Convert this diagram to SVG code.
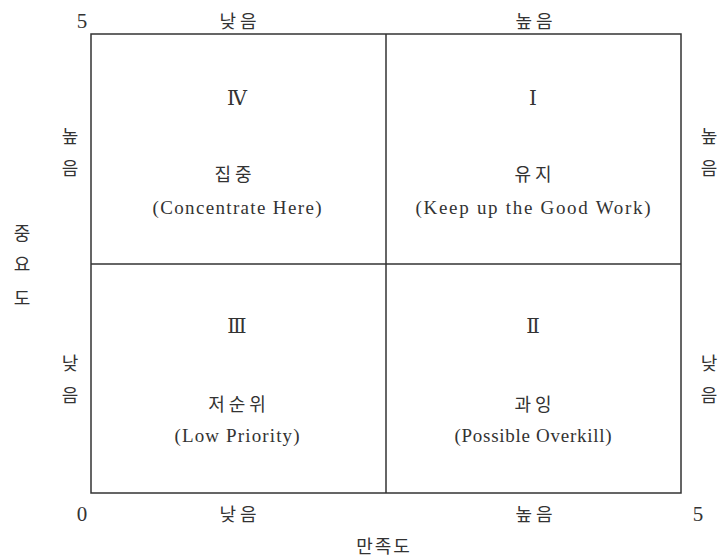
<svg xmlns="http://www.w3.org/2000/svg" width="720" height="559" viewBox="0 0 720 559">
<style>
.ko{font-family:"Noto Sans CJK KR","Noto Sans",sans-serif;font-size:18px;fill:#333;text-anchor:middle}
.sp{letter-spacing:4px}
.en{font-family:"Liberation Serif","DejaVu Serif",serif;font-size:19px;fill:#333;text-anchor:middle}
.num{font-family:"Liberation Serif",serif;font-size:21px;fill:#333;text-anchor:middle}
.rom{font-family:"DejaVu Serif","Liberation Serif",serif;font-size:20px;fill:#333;text-anchor:middle}
.ln{stroke:#333;stroke-width:1.5;fill:none}
</style>
<rect width="720" height="559" fill="#fff"/>
<g id="grid">
<rect class="ln" x="91" y="34" width="590" height="459"/>
<line class="ln" x1="386" y1="34" x2="386" y2="493"/>
<line class="ln" x1="91" y1="264" x2="681" y2="264"/>
</g>
<g id="q4">
<text class="rom" x="237" y="105">Ⅳ</text>
<text class="ko sp" x="235" y="181">집중</text>
<text class="en" x="237" y="214" textLength="169" lengthAdjust="spacing">(Concentrate Here)</text>
</g>
<g id="q1">
<text class="rom" x="533" y="105">Ⅰ</text>
<text class="ko sp" x="535" y="181">유지</text>
<text class="en" x="533" y="214" textLength="235" lengthAdjust="spacing">(Keep up the Good Work)</text>
</g>
<g id="q3">
<text class="rom" x="237" y="333">Ⅲ</text>
<text class="ko sp" x="239" y="411">저순위</text>
<text class="en" x="237" y="442" textLength="125" lengthAdjust="spacing">(Low Priority)</text>
</g>
<g id="q2">
<text class="rom" x="533" y="333">Ⅱ</text>
<text class="ko sp" x="535" y="411">과잉</text>
<text class="en" x="533" y="442" textLength="157" lengthAdjust="spacing">(Possible Overkill)</text>
</g>
<g id="axes">
<text class="num" x="82" y="28">5</text>
<text class="ko sp" x="240" y="28">낮음</text>
<text class="ko sp" x="536" y="28">높음</text>
<text class="num" x="82" y="521">0</text>
<text class="ko sp" x="240" y="521">낮음</text>
<text class="ko sp" x="536" y="521">높음</text>
<text class="num" x="698" y="521">5</text>
<text class="ko" x="384" y="553" style="letter-spacing:2px">만족도</text>
<text class="ko" x="70" y="143">높</text>
<text class="ko" x="70" y="175">음</text>
<text class="ko" x="70" y="370">낮</text>
<text class="ko" x="70" y="402">음</text>
<text class="ko" x="709" y="143">높</text>
<text class="ko" x="709" y="175">음</text>
<text class="ko" x="709" y="370">낮</text>
<text class="ko" x="709" y="402">음</text>
<text class="ko" x="22" y="240">중</text>
<text class="ko" x="22" y="271">요</text>
<text class="ko" x="22" y="305">도</text>
</g>
</svg>
